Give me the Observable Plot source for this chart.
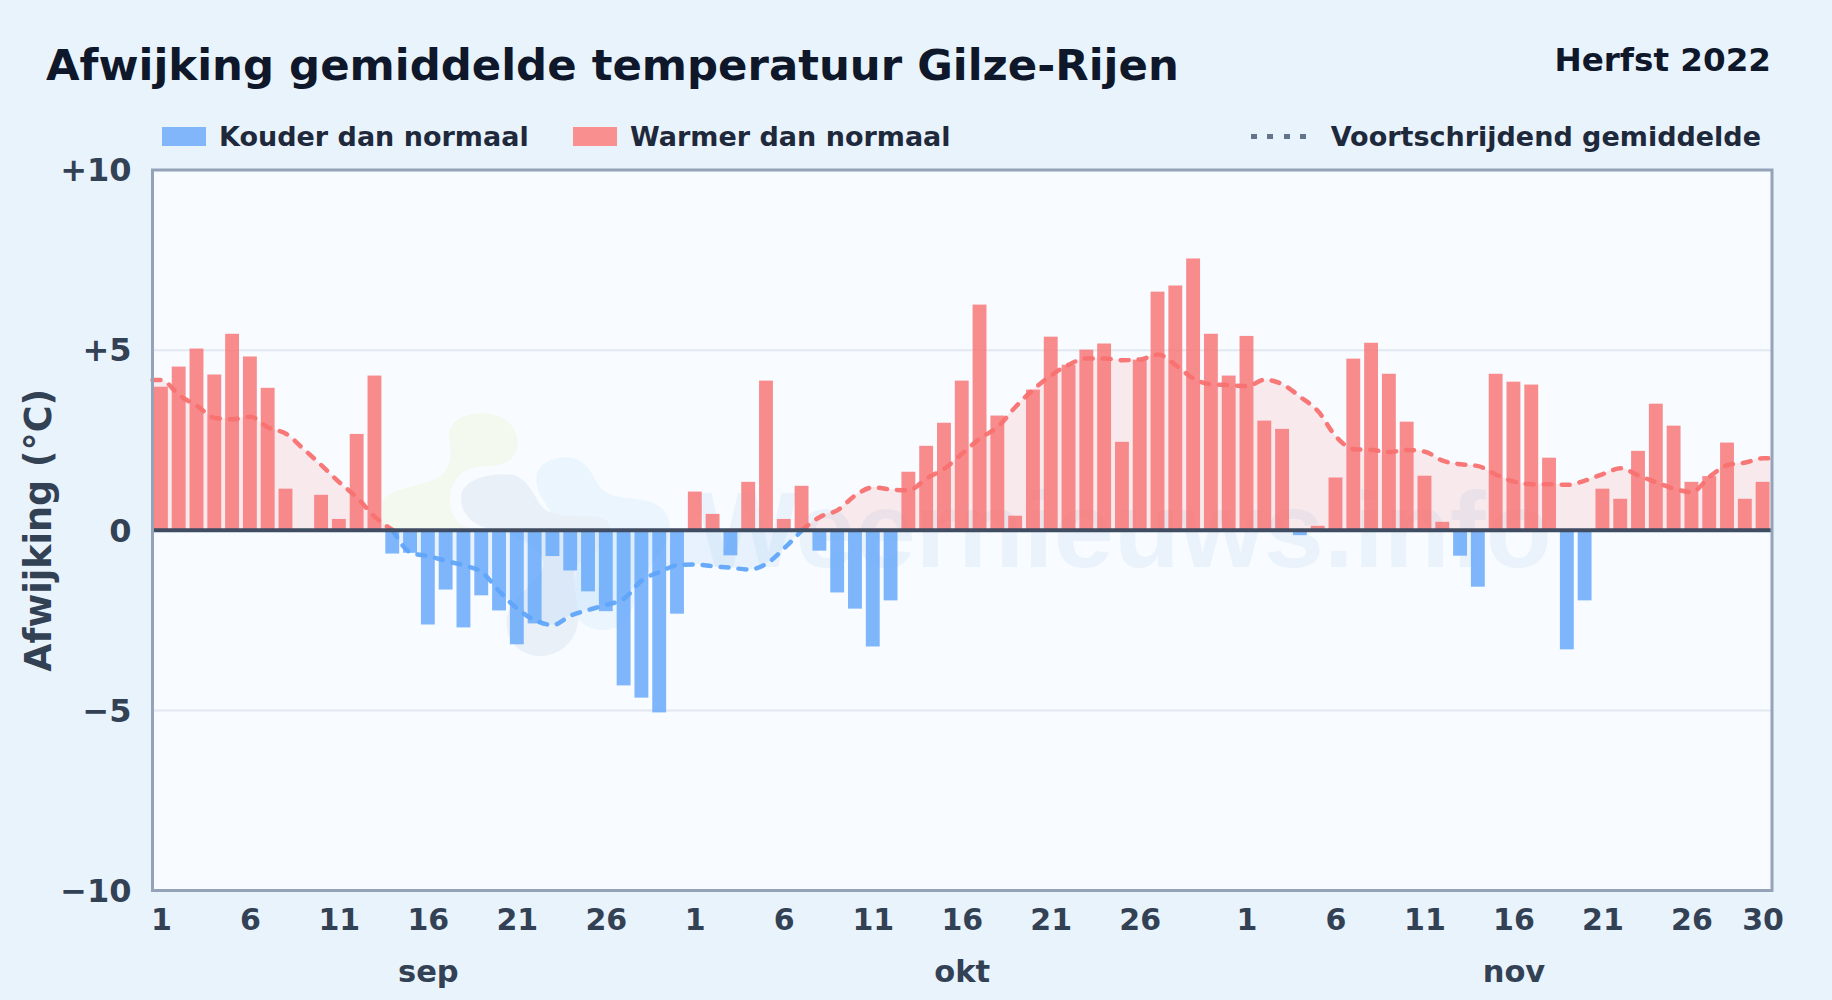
<!DOCTYPE html>
<html lang="nl">
<head>
<meta charset="utf-8">
<title>Afwijking gemiddelde temperatuur Gilze-Rijen</title>
<script src="https://cdn.jsdelivr.net/npm/d3@7"></script>
<script src="https://cdn.jsdelivr.net/npm/@observablehq/plot@0.6"></script>
<style>
  html, body { margin: 0; padding: 0; }
  body { width: 1832px; height: 1000px; overflow: hidden; background: #e9f3fc; font-family: "DejaVu Sans", sans-serif; font-weight: 700; }
  #header { position: relative; width: 1832px; height: 150px; }
  #header > * { position: absolute; white-space: nowrap; line-height: 1; }
  #title { left: 46px; top: 44px; font-size: 43.4px; color: #0f172a; }
  #season { right: 61px; top: 44px; font-size: 32.6px; color: #0f172a; }
  .lg { top: 123px; font-size: 27px; color: #1e293b; }
  .sw { top: 127px; width: 44px; height: 19px; }
  #chart svg { display: block; }
</style>
</head>
<body>
<div id="header">
  <div id="title">Afwijking gemiddelde temperatuur Gilze-Rijen</div>
  <div id="season">Herfst 2022</div>
  <div class="sw" style="left:162px;background:#82b6fb"></div>
  <div class="lg" style="left:219px">Kouder dan normaal</div>
  <div class="sw" style="left:573px;background:#f98f8f"></div>
  <div class="lg" style="left:630px">Warmer dan normaal</div>
  <div id="dash" style="left:1251px;top:134px;width:57px;height:5px;background:repeating-linear-gradient(90deg,#64748b 0 6px,transparent 6px 16.4px)"></div>
  <div class="lg" style="right:71px">Voortschrijdend gemiddelde</div>
</div>
<div id="chart"></div>
<script>
// Daily deviation from normal (deg C)
const sepValues = [3.97,4.53,5.03,4.31,5.44,4.81,3.94,1.14,0,0.97,0.30,2.66,4.28,-0.66,-0.64,-2.63,-1.66,-2.71,-1.82,-2.24,-3.18,-2.60,-0.73,-1.13,-1.71,-2.26,-4.32,-4.66,-5.07,-2.33];
const oktValues = [1.06,0.44,-0.71,1.33,4.14,0.30,1.22,-0.58,-1.74,-2.19,-3.24,-1.96,1.61,2.33,2.97,4.14,6.25,3.17,0.39,3.89,5.36,4.58,5.00,5.17,2.44,4.72,6.61,6.78,7.53,5.44,4.28];
const novValues = [5.38,3.03,2.80,-0.15,0.11,1.45,4.75,5.19,4.33,3.00,1.50,0.22,-0.72,-1.58,4.33,4.11,4.03,2.00,-3.32,-1.96,1.14,0.86,2.19,3.50,2.89,1.33,1.49,2.42,0.86,1.33];
// Running mean
const sepMean = [4.17,3.75,3.45,3.12,3.08,3.15,2.85,2.68,2.25,1.80,1.33,0.90,0.37,0,-0.62,-0.72,-0.85,-0.98,-1.16,-1.70,-2.18,-2.50,-2.63,-2.37,-2.21,-2.07,-1.90,-1.39,-1.16,-0.97];
const oktMean = [-0.95,-1.00,-1.04,-1.09,-0.93,-0.50,0,0.37,0.56,0.97,1.19,1.13,1.11,1.44,1.71,2.13,2.55,2.87,3.43,3.91,4.30,4.60,4.77,4.77,4.72,4.74,4.88,4.58,4.21,4.05,4.03];
const novMean = [4.00,4.18,4.05,3.70,3.30,2.60,2.25,2.23,2.17,2.23,2.18,1.93,1.83,1.78,1.54,1.35,1.28,1.28,1.26,1.38,1.56,1.72,1.52,1.33,1.15,1.06,1.49,1.81,1.88,2.00];
// Axis labels
const dayTicks = [1,6,11,16,21,26];
const monthNames = ["sep","okt","nov"];
const monthLengths = [30,31,30];
const yTicks = [-10,-5,0,5,10];

const values = [...sepValues, ...oktValues, ...novValues];
const means = [...sepMean, ...oktMean, ...novMean];
const days = d3.range(values.length);
const lastDay = days.length - 1;
const bars = days.map(i => ({i, v: values[i]}));

// Split the running mean where it changes sign, sharing the zero days.
// The curve runs on flat from the first and last day to the frame edges.
const meanRows = [];
let seg = 0;
let sign = means[0] > 0 ? 1 : -1;
meanRows.push({i: -0.5, m: means[0], seg, sign});
days.forEach(i => {
  const m = means[i];
  meanRows.push({i, m, seg, sign});
  if (m === 0) {
    seg++;
    sign = -sign;
    meanRows.push({i, m, seg, sign});
  }
});
meanRows.push({i: lastDay + 0.5, m: means[lastDay], seg, sign});

// Tick positions and labels per month
const tickIdx = [], tickLab = new Map(), monthRows = [];
let off = 0;
monthLengths.forEach((len, k) => {
  dayTicks.forEach(d => { tickIdx.push(off + d - 1); tickLab.set(off + d - 1, String(d)); });
  monthRows.push({i: off + 15, name: monthNames[k]});
  off += len;
});
tickIdx.push(lastDay); tickLab.set(lastDay, "30");

// Decorative watermark logo behind the data
function logo() {
  const g = d3.create("svg:g").attr("transform", "translate(370,250) scale(0.3333)");
  [
    ["#f4f9f0", "M40,300 C60,265 150,260 200,235 C240,215 245,170 240,130 C225,80 260,40 340,40 C410,40 450,90 442,140 C435,185 400,200 330,200 C270,205 240,250 240,300 C240,340 260,375 300,385 L40,385 C35,350 35,320 40,300Z"],
    ["#eaf5fe", "M500,230 C505,185 560,165 610,175 C660,190 665,230 690,260 C720,300 790,290 840,305 C890,320 910,370 895,410 C880,460 820,510 800,570 C790,640 760,690 700,690 C640,690 600,640 600,590 C600,540 640,510 620,450 C600,390 540,340 520,300 C505,275 498,255 500,230Z"],
    ["#e9f0f8", "M275,280 C285,235 370,215 430,225 C480,240 490,290 520,325 C560,360 650,340 700,355 C740,375 720,440 640,480 C590,510 620,570 625,640 C630,720 570,768 510,768 C440,768 405,710 410,660 C415,590 500,560 520,500 C530,450 440,400 350,385 C300,370 265,330 275,280Z"]
  ].forEach(([fill, d]) => g.append("path").attr("fill", fill).attr("d", d));
  return g.node();
}

const plot = Plot.plot({
  width: 1832,
  height: 850,
  marginTop: 19.5,
  marginBottom: 110,
  marginLeft: 152,
  marginRight: 60.5,
  style: {background: "transparent", fontFamily: "DejaVu Sans, sans-serif"},
  x: {type: "linear", domain: [-0.5, lastDay + 0.5]},
  y: {domain: [-10, 10]},
  marks: [
    Plot.frame({fill: "#f8fbff", stroke: null}),
    logo,
    Plot.text(["Weernieuws.info"], {
      text: d => d, frameAnchor: "left", textAnchor: "start", dx: 543, dy: 2,
      fontFamily: "Liberation Sans", fontSize: 108, fontWeight: 700, fill: "#eaf3fb", lineAnchor: "middle"
    }),
    Plot.ruleY(yTicks.filter(t => Math.abs(t) === 5), {y: d => d, stroke: "#e2e8f0", strokeWidth: 2}),
    Plot.areaY(meanRows.filter(d => d.sign > 0), {x: "i", y1: 0, y2: "m", z: "seg", fill: "#f87171", fillOpacity: 0.13, curve: "monotone-x"}),
    Plot.areaY(meanRows.filter(d => d.sign < 0), {x: "i", y1: 0, y2: "m", z: "seg", fill: "#60a5fa", fillOpacity: 0.1, curve: "monotone-x"}),
    Plot.rectY(bars, {x1: d => d.i - 0.39, x2: d => d.i + 0.39, y1: 0, y2: "v", fill: d => d.v >= 0 ? "#f87171" : "#60a5fa", fillOpacity: 0.8}),
    Plot.lineY(meanRows.filter(d => d.sign > 0), {x: "i", y: "m", z: "seg", stroke: "#f87171", strokeWidth: 4.5, strokeDasharray: "8,10", strokeLinecap: "round", strokeOpacity: 0.95, curve: "monotone-x"}),
    Plot.lineY(meanRows.filter(d => d.sign < 0), {x: "i", y: "m", z: "seg", stroke: "#60a5fa", strokeWidth: 4.5, strokeDasharray: "8,10", strokeLinecap: "round", strokeOpacity: 0.95, curve: "monotone-x"}),
    Plot.ruleY([0], {stroke: "#3f4c61", strokeWidth: 4}),
    Plot.frame({stroke: "#94a3b8", strokeWidth: 3, fill: "none"}),
    Plot.axisX({ticks: tickIdx, tickFormat: d => tickLab.get(d), tickSize: 0, tickPadding: 18, label: null, fontSize: 30, fontWeight: 700, fill: "#334155"}),
    Plot.axisY({ticks: yTicks, tickFormat: d => d > 0 ? "+" + d : d < 0 ? "\u2212" + (-d) : "0", tickSize: 0, tickPadding: 21, dy: 1, label: null, fontSize: 32, fontWeight: 700, fill: "#334155"}),
    Plot.text(["Afwijking (°C)"], {text: d => d, frameAnchor: "left", textAnchor: "middle", rotate: -90, dx: -113, fontSize: 36.5, fontWeight: 700, fill: "#334155"}),
    Plot.text(monthRows, {x: "i", text: "name", frameAnchor: "bottom", dy: 91, fontSize: 30.5, fontWeight: 700, fill: "#334155"})
  ]
});
document.getElementById("chart").appendChild(plot);
</script>
</body>
</html>
